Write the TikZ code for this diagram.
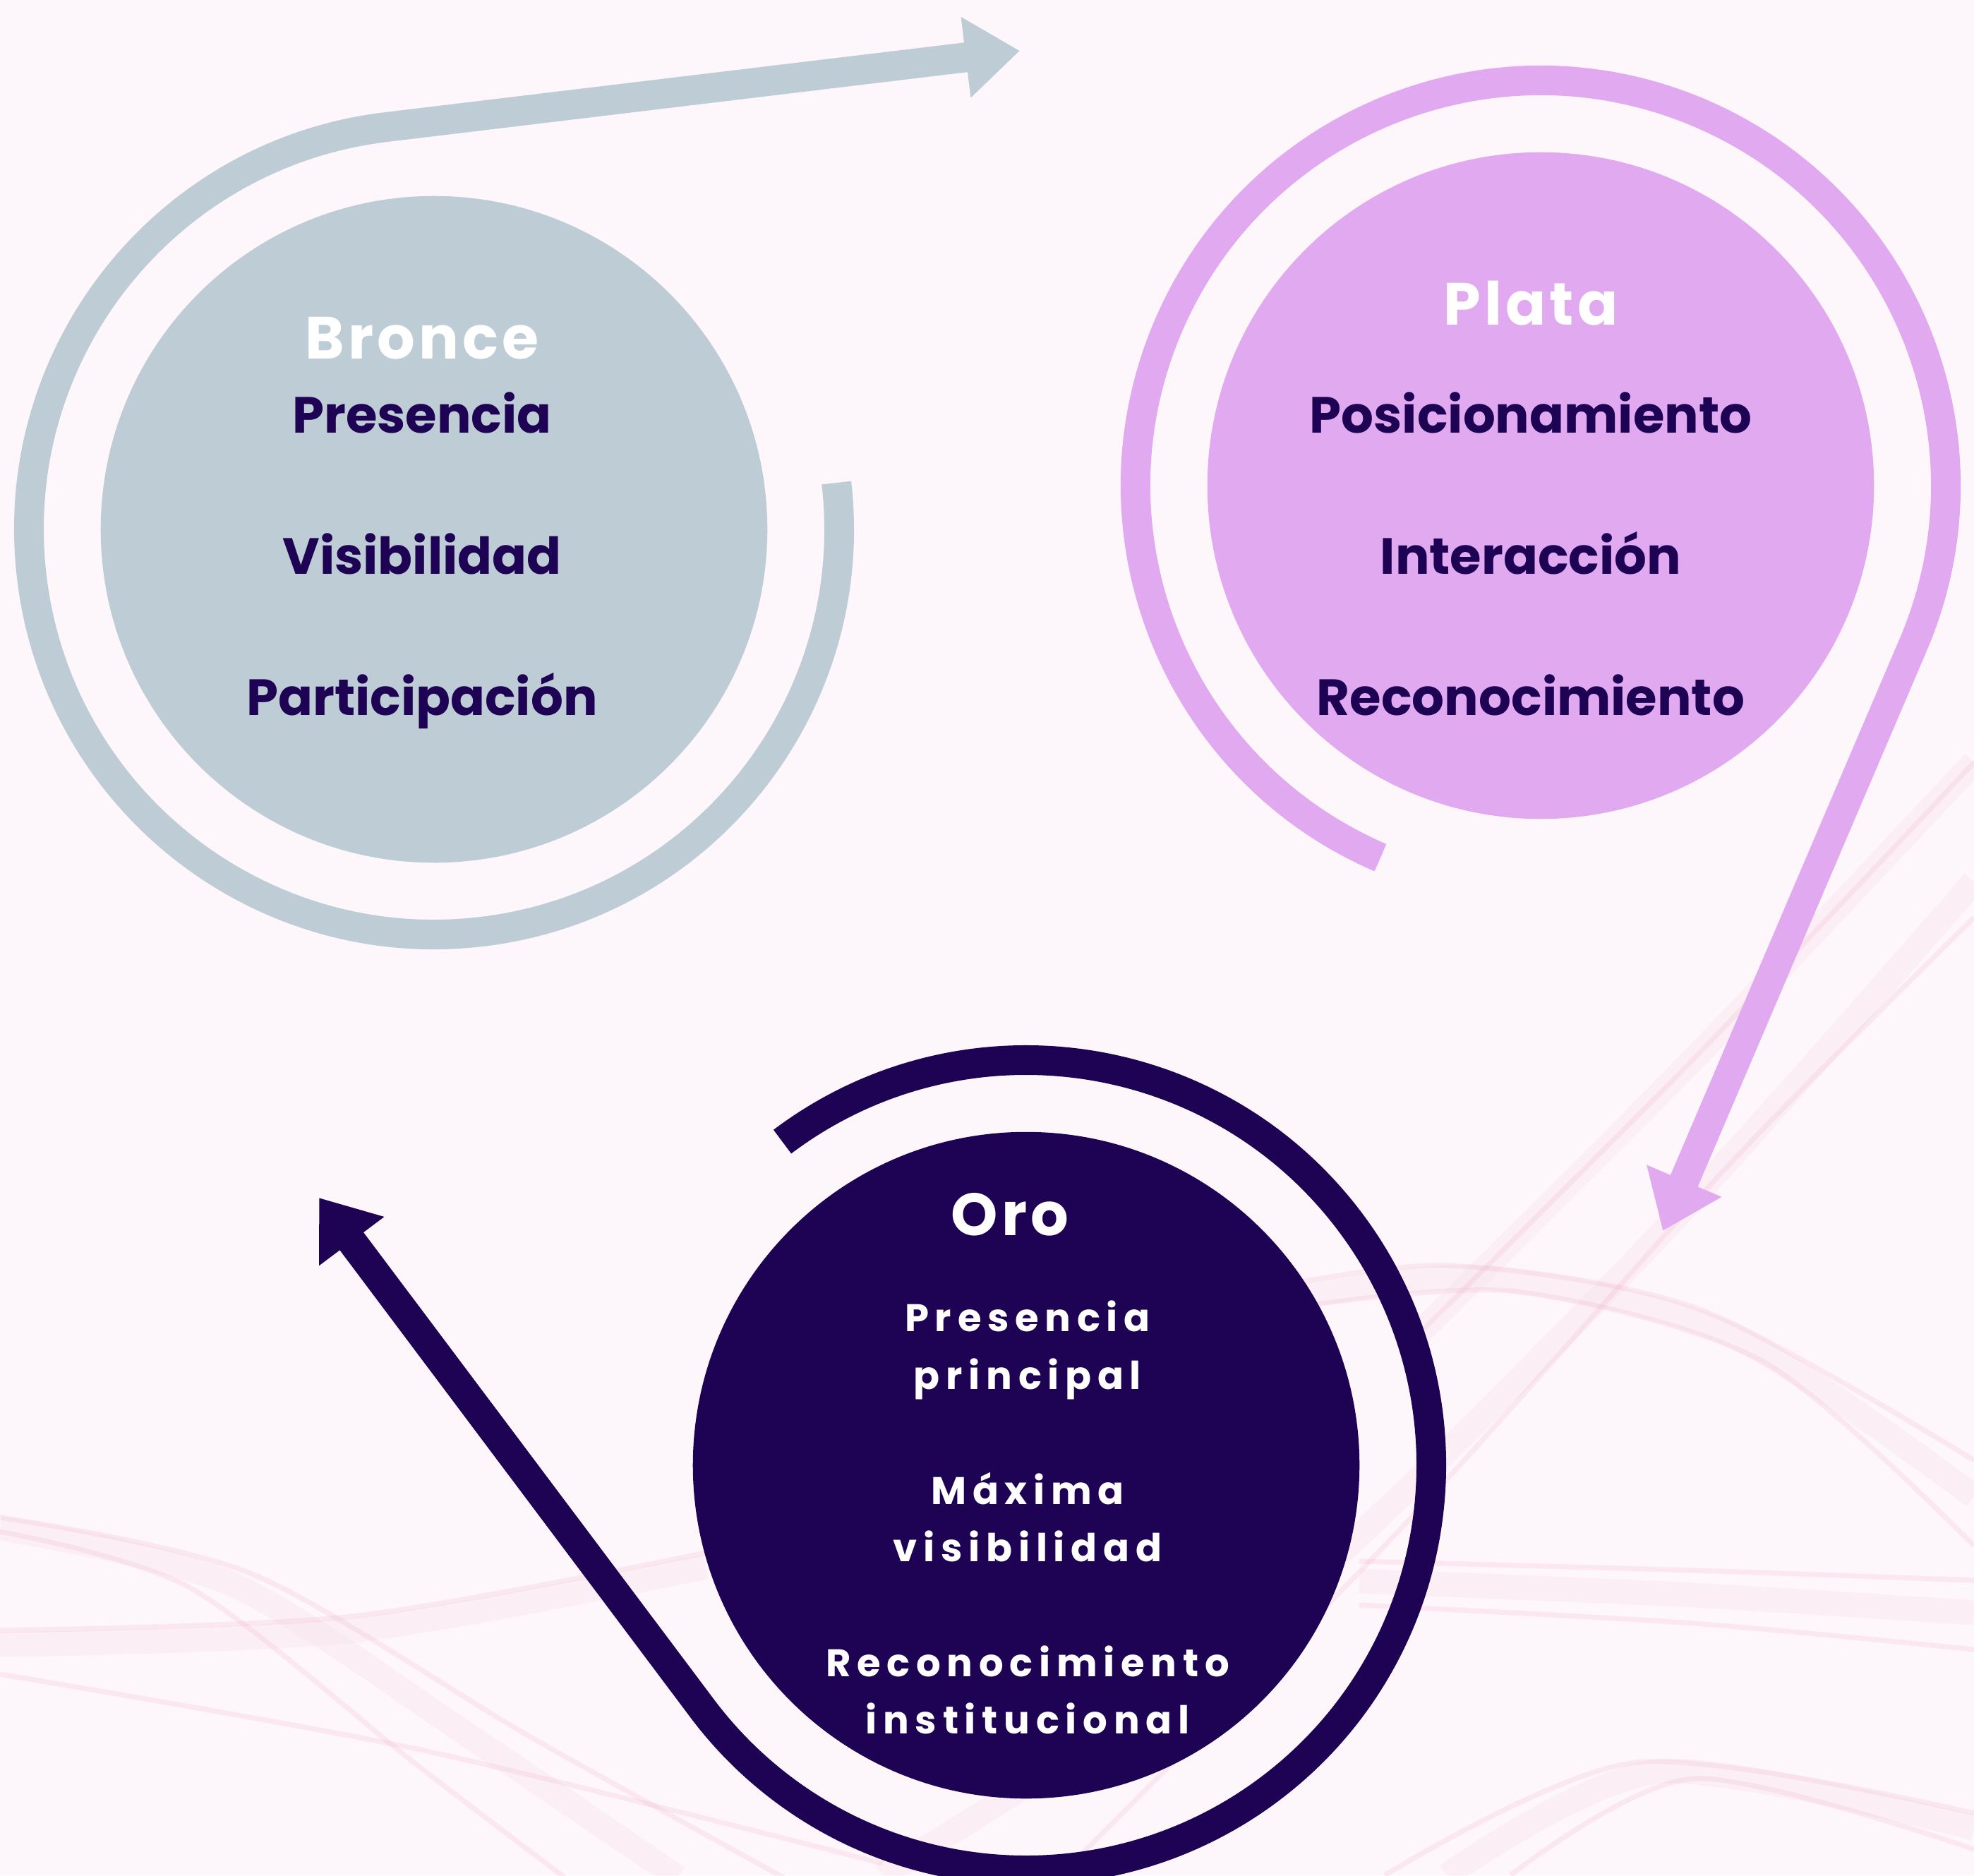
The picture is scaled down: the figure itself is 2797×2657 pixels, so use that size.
\documentclass[tikz,border=0pt]{standalone}
\usepackage{fontspec}
\setmainfont{Poppins}
\newfontfamily\wide{Poppins}[LetterSpace=6]
\newfontfamily\spread{Poppins}[LetterSpace=16]
\usetikzlibrary{arrows.meta}
\definecolor{bronce}{RGB}{190,205,213}
\definecolor{plata}{RGB}{225,169,239}
\definecolor{oro}{RGB}{30,3,84}
\definecolor{bgpaper}{RGB}{253,246,250}
\definecolor{wavepink}{RGB}{238,165,192}
\begin{document}
\begin{tikzpicture}
  [x=0.01cm, y=-0.01cm,
   disc/.style={circle, minimum size=9.44cm, inner sep=0pt},
   ring/.style={line width=0.42cm, -{Triangle[length=0.77cm, width=1.1cm]}},
   wave/.style={draw=wavepink, opacity=0.18, line width=2pt},
   band/.style={draw=wavepink, opacity=0.08, line width=0.35cm},
   item/.style={font=\bfseries\fontsize{20.5}{24}\selectfont, text=oro, anchor=base, inner sep=0pt},
   head/.style={font=\wide\bfseries\fontsize{24}{28}\selectfont, text=white, anchor=base, inner sep=0pt},
   gold/.style={font=\spread\bfseries\fontsize{15.5}{18}\selectfont, text=white, anchor=base, inner sep=0pt}]
  \fill[bgpaper] (0,0) rectangle (2797,2657);
  \clip (0,0) rectangle (2797,2657);
  % silk waves
  \draw[band] plot[smooth] coordinates {(0,2165) (330,2245) (680,2470) (960,2660)};
  \draw[wave] plot[smooth] coordinates {(0,2150) (357,2230) (750,2460) (1110,2660)};
  \draw[wave] plot[smooth] coordinates {(0,2170) (270,2250) (590,2500) (800,2660)};
  \draw[band] plot[smooth] coordinates {(0,2330) (500,2310) (1000,2220)};
  \draw[wave] plot[smooth] coordinates {(0,2310) (500,2290) (1000,2200)};
  \draw[wave] plot[smooth] coordinates {(0,2372) (600,2480) (1250,2640)};
  \draw[band] plot[smooth] coordinates {(1250,2657) (1784,2301) (2319,1784) (2797,1249)};
  \draw[wave] plot[smooth] coordinates {(1500,2660) (2000,2150) (2450,1650) (2797,1300)};
  \draw[band] plot[smooth] coordinates {(2000,1900) (2400,1500) (2797,1080)};
  \draw[wave] plot[smooth] coordinates {(2000,1900) (2400,1500) (2797,1080)};
  \draw[band] plot[smooth] coordinates {(1800,1845) (2100,1810) (2450,1890) (2797,2120)};
  \draw[wave] plot[smooth] coordinates {(1784,1828) (2051,1793) (2408,1855) (2797,2069)};
  \draw[wave] plot[smooth] coordinates {(1850,1850) (2150,1830) (2500,1930) (2797,2190)};
  \draw[band] plot[smooth] coordinates {(1926,2240) (2400,2260) (2797,2285)};
  \draw[wave] plot[smooth] coordinates {(1926,2212) (2400,2225) (2797,2239)};
  \draw[wave] plot[smooth] coordinates {(1926,2274) (2400,2300) (2797,2337)};
  \draw[band] plot[smooth] coordinates {(2050,2657) (2350,2510) (2797,2590)};
  \draw[wave] plot[smooth] coordinates {(1962,2657) (2319,2497) (2797,2569)};
  \draw[wave] plot[smooth] coordinates {(2140,2657) (2400,2520) (2797,2620)};
  % levels
  \node[disc, fill=bronce] (bronce) at (615,750) {};
  \node[disc, fill=plata] (plata) at (2183,688) {};
  \node[disc, fill=oro] (oro) at (1454,2076) {};
  \coordinate (btip) at (1445,72);
  \coordinate (ptip) at (2356,1744);
  \coordinate (otip) at (452,1697);
  \draw[ring, bronce] (bronce.center) ++(-6.6:574) arc[start angle=-6.6, end angle=263.4, radius=574] -- (btip);
  \draw[ring, plata] (plata.center) ++(113.3:574) arc[start angle=113.3, end angle=382.8, radius=574] -- (ptip);
  \draw[ring, oro] (oro.center) ++(-127:574) arc[start angle=-127, end angle=143.4, radius=574] -- (otip);
  % texts
  \node[head] (b0) at (598,508) {Bronce};
  \node[item] (b1) at (598,613) {Presencia};
  \node[item] (b2) at (598,813) {Visibilidad};
  \node[item] (b3) at (598,1013) {Participación};
  \node[head] (p0) at (2169,460) {Plata};
  \node[item] (p1) at (2169,613) {Posicionamiento};
  \node[item] (p2) at (2169,813) {Interacción};
  \node[item] (p3) at (2169,1013) {Reconocimiento};
  \node[head] (o0) at (1431,1750) {Oro};
  \node[gold] (o1) at (1456,1886) {Presencia};
  \node[gold] (o2) at (1456,1968) {principal};
  \node[gold] (o3) at (1456,2131) {Máxima};
  \node[gold] (o4) at (1456,2212) {visibilidad};
  \node[gold] (o5) at (1456,2375) {Reconocimiento};
  \node[gold] (o6) at (1456,2456) {institucional};
\end{tikzpicture}
\end{document}
